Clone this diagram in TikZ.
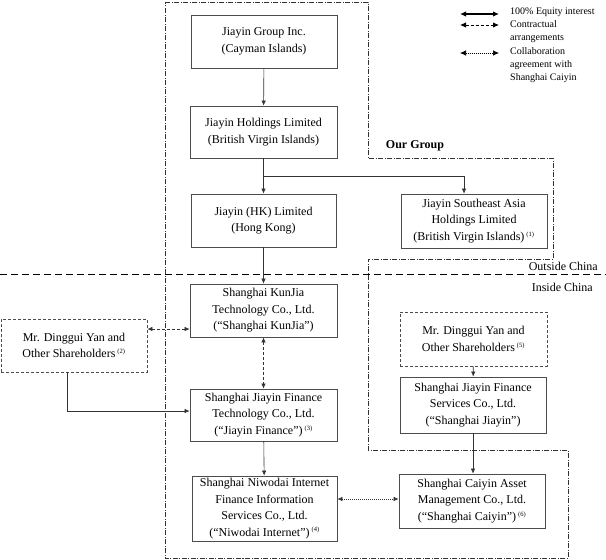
\documentclass[tikz,border=0pt]{standalone}
\usepackage{fontspec}
\setmainfont{Liberation Serif}
\usetikzlibrary{arrows.meta}
\newcommand{\fn}[1]{\,\textsuperscript{\fontsize{6.5}{7}\selectfont(#1)}}
\begin{document}
\begin{tikzpicture}[x=1pt,y=-1pt,
  box/.style={draw=black!70, line width=0.8pt, align=center, inner sep=0pt,
    font=\fontsize{12}{16.5}\selectfont},
  dbox/.style={box, dash pattern=on 3pt off 2pt},
  conn/.style={draw=black!80, line width=0.6pt, -{Latex[length=5pt,width=4.5pt]}},
  dconn/.style={draw=black!80, line width=0.6pt, dash pattern=on 3pt off 2pt,
    {Latex[length=5pt,width=4.5pt]}-{Latex[length=5pt,width=4.5pt]}},
  oconn/.style={draw=black!80, line width=0.6pt, dash pattern=on 1pt off 1pt,
    {Latex[length=5pt,width=4.5pt]}-{Latex[length=5pt,width=4.5pt]}},
  region/.style={draw=black!80, line width=0.8pt, dash pattern=on 5pt off 1.5pt on 1pt off 1.5pt},
  lg/.style={line width=1.1pt, {Latex[length=6pt,width=5.5pt]}-{Latex[length=6pt,width=5.5pt]}},
  lgtext/.style={anchor=north west, align=left, inner sep=0pt, font=\fontsize{10}{13}\selectfont}
]
\useasboundingbox (0,0) rectangle (606,560);

% group boundary
\draw[region] (165,2) -- (368,2) -- (368,158) -- (553,158) -- (553,259) -- (368,259)
  -- (368,450) -- (568,450) -- (568,558) -- (165,558) -- cycle;
% China border
\draw[line width=0.9pt, dash pattern=on 7pt off 4pt] (0,274) -- (606,274);
\node[anchor=east, inner sep=0pt, font=\fontsize{12}{14}\selectfont] (out) at (598,266) {Outside China};
\node[anchor=east, inner sep=0pt, font=\fontsize{12}{14}\selectfont] (in) at (593,287) {Inside China};
\node[inner sep=0pt, font=\bfseries\fontsize{12}{14}\selectfont] (our) at (415,146) {Our Group};

% boxes
\node[box, minimum width=146, minimum height=53] (g) at (264,41.5) {Jiayin Group Inc.\\(Cayman Islands)};
\node[box, minimum width=147, minimum height=52] (h) at (263.5,132) {Jiayin Holdings Limited\\(British Virgin Islands)};
\node[box, minimum width=145, minimum height=53] (hk) at (263.5,220.5) {Jiayin (HK) Limited\\(Hong Kong)};
\node[box, minimum width=146, minimum height=54] (sea) at (474,221) {Jiayin Southeast Asia\\Holdings Limited\\(British Virgin Islands)\fn{1}};
\node[box, minimum width=147, minimum height=53] (kj) at (263.5,310.5) {Shanghai KunJia\\Technology Co., Ltd.\\(“Shanghai KunJia”)};
\node[dbox, minimum width=146, minimum height=53] (d2) at (74,345.5) {Mr. Dinggui Yan and\\Other Shareholders\fn{2}};
\node[box, minimum width=147, minimum height=52] (jf) at (263.5,415) {Shanghai Jiayin Finance\\Technology Co., Ltd.\\(“Jiayin Finance”)\fn{3}};
\node[box, minimum width=145, minimum height=65] (nw) at (264.5,508.5) {Shanghai Niwodai Internet\\Finance Information\\Services Co., Ltd.\\(“Niwodai Internet”)\fn{4}};
\node[box, minimum width=146, minimum height=54] (cy) at (472,501) {Shanghai Caiyin Asset\\Management Co., Ltd.\\(“Shanghai Caiyin”)\fn{6}};
\node[dbox, minimum width=147, minimum height=54] (d5) at (473.5,339) {Mr. Dinggui Yan and\\Other Shareholders\fn{5}};
\node[box, minimum width=146, minimum height=56] (sj) at (473,405) {Shanghai Jiayin Finance\\Services Co., Ltd.\\(“Shanghai Jiayin”)};

% connectors
\coordinate (br) at (264,176);
\coordinate (ya) at (0,329);
\coordinate (yb) at (0,411);
\coordinate (yc) at (0,499);
\coordinate (xs) at (464,0);
\coordinate (xd) at (67,0);
\draw[conn] (g) -- (h);
\draw[conn] (h) -- (hk);
\draw[conn] (br) -| (xs |- sea.north);
\draw[conn] (hk) -- (kj);
\draw[dconn] (d2.east |- ya) -- (kj.west |- ya);
\draw[dconn] (kj.south) -- (jf.north);
\draw[conn] (xd |- d2.south) |- (jf.west |- yb);
\draw[conn] (jf) -- (nw);
\draw[oconn] (nw.east |- yc) -- (cy.west |- yc);
\draw[conn] (d5) -- (sj);
\draw[conn] (sj.south) -- (sj.south |- cy.north);

% legend
\coordinate (l1a) at (460,14); \coordinate (l1b) at (499,14);
\coordinate (l2a) at (460,25); \coordinate (l2b) at (499,25);
\coordinate (l3a) at (460,53); \coordinate (l3b) at (499,53);
\draw[lg] (l1a) -- (l1b);
\draw[lg, line width=0.9pt, dash pattern=on 3pt off 2pt] (l2a) -- (l2b);
\draw[lg, line width=0.7pt, dash pattern=on 1pt off 1pt] (l3a) -- (l3b);
\node[lgtext] (t1) at (510,8) {100\% Equity interest};
\node[lgtext] (t2) at (510,20) {Contractual\\arrangements};
\node[lgtext] (t3) at (510,47) {Collaboration\\agreement with\\Shanghai Caiyin};
\end{tikzpicture}
\end{document}
